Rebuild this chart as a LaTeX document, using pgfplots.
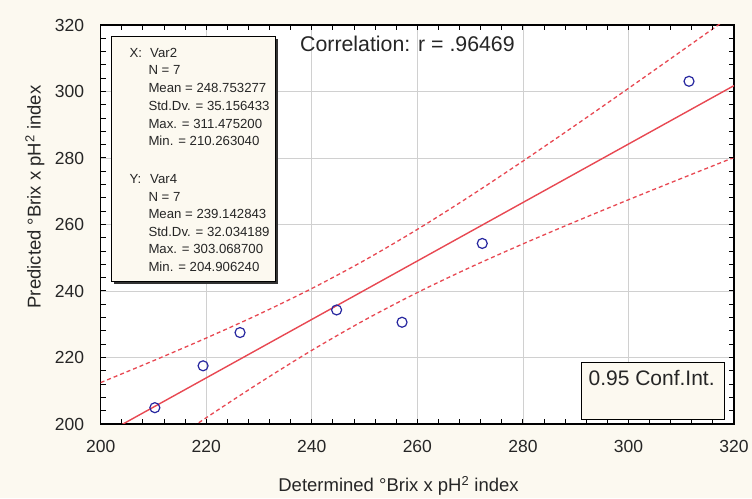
\documentclass[border=0pt]{standalone}
\usepackage{pgfplots}
\pgfplotsset{compat=1.18}
\usepackage{fontspec}
\setmainfont{Liberation Sans}

\definecolor{bgcream}{RGB}{252,249,240}
\definecolor{fitred}{RGB}{232,72,82}
\definecolor{ptblue}{RGB}{40,40,160}
\definecolor{gridgray}{RGB}{208,208,208}

\begin{document}
\begin{tikzpicture}
% page background
\fill[bgcream] (0pt,0pt) rectangle (752pt,498pt);

\begin{axis}[
    at={(100.7pt,74pt)}, anchor=south west,
    scale only axis, width=633.3pt, height=399pt,
    xmin=200, xmax=320, ymin=200, ymax=320,
    xtick={200,220,...,320}, ytick={200,220,...,320},
    minor tick num=4,
    xtick pos=both, ytick pos=both,
    tick align=inside,
    major tick length=5pt, minor tick length=5pt,
    grid=major,
    major grid style={gridgray, line width=0.8pt},
    axis line style={line width=1.2pt},
    every tick/.style={black, line width=1pt},
    every minor tick/.style={black, line width=1pt},
    axis background/.style={fill=white},
    ticklabel style={font=\fontsize{17.5}{20}\selectfont, text=black!85},
    /pgf/number format/assume math mode=true,
    xticklabel style={yshift=-13pt},
    yticklabel style={xshift=-13pt},
]
% 0.95 confidence band, upper
\addplot[fitred, line width=1.3pt, dash pattern=on 4pt off 3pt, smooth] coordinates {
    (200,212.46) (210,219.04) (220,225.85) (230,233.02) (240,240.75)
    (250,249.23) (260,258.53) (270,268.54) (280,279.06) (290,289.90)
    (300,300.94) (310,312.12) (320,323.38)
};
% 0.95 confidence band, lower
\addplot[fitred, line width=1.3pt, dash pattern=on 4pt off 3pt, smooth] coordinates {
    (200,180.11) (210,191.12) (220,201.89) (230,212.29) (240,222.15)
    (250,231.25) (260,239.53) (270,247.10) (280,254.16) (290,260.90)
    (300,267.44) (310,273.84) (320,280.16)
};
% regression line
\addplot[fitred, line width=1.4pt] coordinates {(200,196.288) (320,301.769)};
% observations
\addplot[only marks, mark=o, mark size=5pt, ptblue, line width=1.2pt] coordinates {
    (210.263,204.906) (219.4,217.5) (226.4,227.5) (244.7,234.3)
    (257.1,230.6) (272.3,254.3) (311.475,303.069)
};
\end{axis}

\begin{scope}[x=1pt,y=1pt]
% inward tick marks every 4 units on all four sides
\foreach \i in {1,...,29} {
  \draw[black, line width=1pt] (100.7+\i*21.11,74) -- ++(0,5);
  \draw[black, line width=1pt] (100.7+\i*21.11,473) -- ++(0,-5);
  \draw[black, line width=1pt] (100.7,74+\i*13.3) -- ++(5,0);
  \draw[black, line width=1pt] (734,74+\i*13.3) -- ++(-5,0);
}

% statistics box
\fill[black!80] (114.2,216.3-2.5) rectangle (278,461.3-2.5);
\draw[fill=bgcream, line width=0.8pt] (111.7,216.3) rectangle (275.5,461.3);
\begin{scope}[every node/.style={anchor=base west, inner sep=0pt,
    font=\fontsize{13.2}{15}\selectfont, text=black!85}]
  \node at (129.3,498-57.3) {X:};
  \node at (150,498-57.3) {Var2};
  \node at (148.3,498-75) {N = 7};
  \node at (148.3,498-93) {Mean = 248.753277};
  \node at (148.3,498-110.7) {Std.Dv. = 35.156433};
  \node at (148.3,498-128.3) {Max. = 311.475200};
  \node at (148.3,498-146) {Min. = 210.263040};
  \node at (129.3,498-184) {Y:};
  \node at (150,498-184) {Var4};
  \node at (148.3,498-201.7) {N = 7};
  \node at (148.3,498-219) {Mean = 239.142843};
  \node at (148.3,498-236.7) {Std.Dv. = 32.034189};
  \node at (148.3,498-254) {Max. = 303.068700};
  \node at (148.3,498-271.7) {Min. = 204.906240};
\end{scope}

% correlation
\node[anchor=west, inner sep=0pt, font=\fontsize{21.3}{24}\selectfont, text=black!85]
  at (300,498-44) {Correlation: r = .96469};

% confidence legend box
\draw[fill=bgcream, line width=0.8pt] (581.7,78.7) rectangle (724.3,135.3);
\node[anchor=west, inner sep=0pt, font=\fontsize{21}{24}\selectfont, text=black!85]
  at (588.4,498-378) {0.95 Conf.Int.};

% axis titles
\node[inner sep=0pt, font=\fontsize{18.5}{22}\selectfont, text=black!85]
  at (398.5,498-486) {Determined °Brix x pH\textsuperscript{2} index};
\node[inner sep=0pt, rotate=90, font=\fontsize{18.5}{22}\selectfont, text=black!85]
  at (35,498-197) {Predicted °Brix x pH\textsuperscript{2} index};
\end{scope}

\pgfresetboundingbox
\path (0pt,0pt) rectangle (752pt,498pt);
\end{tikzpicture}
\end{document}
